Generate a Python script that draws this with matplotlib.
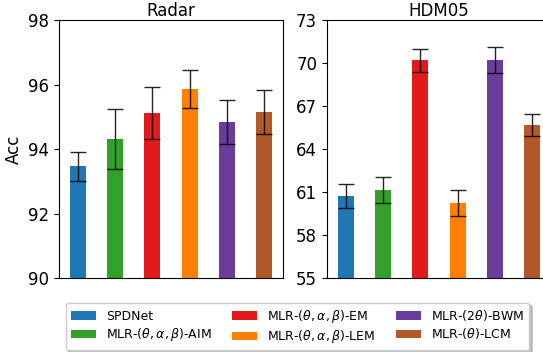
import matplotlib
matplotlib.use("Agg")
import matplotlib.pyplot as plt
import numpy as np

methods = ["SPDNet", r"MLR-$(\theta,\alpha,\beta)$-AIM", r"MLR-$(\theta,\alpha,\beta)$-EM",
           r"MLR-$(\theta,\alpha,\beta)$-LEM", r"MLR-$(2\theta)$-BWM", r"MLR-$(\theta)$-LCM"]
colors = ["#1f78b4", "#33a02c", "#e31a1c", "#ff7f00", "#6a3d9a", "#b15928"]

radar_mean = [93.47, 94.31, 95.12, 95.86, 94.84, 95.15]
radar_std = [0.45, 0.94, 0.80, 0.58, 0.68, 0.68]
hdm_mean = [60.72, 61.14, 70.21, 60.23, 70.21, 65.67]
hdm_std = [0.81, 0.90, 0.80, 0.93, 0.88, 0.77]

radar_ticks = [90, 92, 94, 96, 98]
hdm_ticks = [55, 58, 61, 64, 67, 70, 73]

fig = plt.figure(figsize=(5.43, 3.52), dpi=100)
ax1 = fig.add_axes([0.1087, 0.210, 0.4125, 0.733])
ax2 = fig.add_axes([0.602, 0.210, 0.4125, 0.733])

x = np.arange(len(methods))


def draw(ax, mean, std, ticks, title):
    bars = ax.bar(x, mean, width=0.43, color=colors)
    ax.errorbar(x, mean, yerr=std, fmt="none", ecolor="black", elinewidth=1,
                capsize=6, capthick=1, alpha=0.85)
    ax.set_ylim(ticks[0], ticks[-1])
    ax.set_yticks(ticks)
    ax.set_xlim(-0.5, 5.5)
    ax.set_xticks([])
    ax.tick_params(axis="y", labelsize=12)
    ax.set_title(title, fontsize=12, pad=2.5)
    return bars


bars = draw(ax1, radar_mean, radar_std, radar_ticks, "Radar")
draw(ax2, hdm_mean, hdm_std, hdm_ticks, "HDM05")
ax1.set_ylabel("Acc", fontsize=12)

fig.legend(bars, methods, ncol=3, loc="center", bbox_to_anchor=(0.548, 0.0724),
           fontsize=9, handlelength=2.0, columnspacing=1.65, labelspacing=0.3,
           shadow={"color": "0.6", "alpha": 0.6}, fancybox=True)

fig.savefig("out.png", dpi=100)
